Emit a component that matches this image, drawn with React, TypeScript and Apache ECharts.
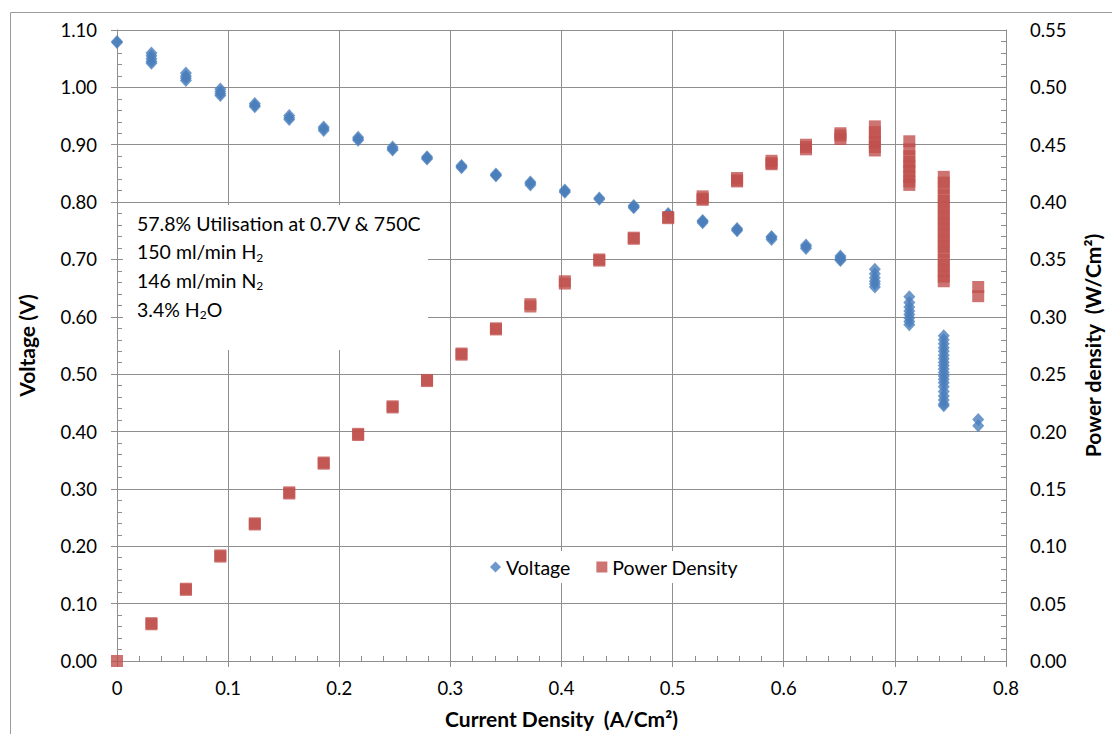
import React, { useEffect, useRef } from "react";
import * as echarts from "echarts";

const currentSteps = [0, 0.031, 0.062, 0.093, 0.124, 0.155, 0.186, 0.217, 0.248, 0.279, 0.31, 0.341, 0.372, 0.403, 0.434, 0.465, 0.496, 0.527, 0.558, 0.589, 0.62, 0.651, 0.682, 0.713, 0.744, 0.775];

const voltageReadings: number[][] = [
  [1.08, 1.078],
  [1.06, 1.055, 1.05, 1.045, 1.042],
  [1.025, 1.02, 1.016, 1.012],
  [0.997, 0.993, 0.989, 0.986],
  [0.972, 0.969, 0.966],
  [0.951, 0.947, 0.944],
  [0.931, 0.928, 0.925],
  [0.913, 0.91, 0.908],
  [0.896, 0.893, 0.891],
  [0.879, 0.877, 0.875],
  [0.864, 0.862, 0.86],
  [0.849, 0.847, 0.846],
  [0.835, 0.833, 0.83],
  [0.821, 0.819, 0.817],
  [0.807, 0.805],
  [0.794, 0.792, 0.79],
  [0.78, 0.778],
  [0.768, 0.766, 0.764],
  [0.754, 0.752, 0.75],
  [0.74, 0.738, 0.735],
  [0.725, 0.722, 0.719],
  [0.706, 0.703, 0.7, 0.698],
  [0.683, 0.675, 0.668, 0.662, 0.657, 0.652],
  [0.635, 0.625, 0.617, 0.61, 0.604, 0.598, 0.592, 0.586],
  [0.567, 0.56, 0.553, 0.546, 0.54, 0.533, 0.527, 0.521, 0.515, 0.509, 0.503, 0.497, 0.491, 0.485, 0.478, 0.47, 0.462, 0.455, 0.448, 0.445],
  [0.421, 0.41],
];

const powerReadings: number[][] = [
  [0.0],
  [0.033, 0.032],
  [0.063, 0.062],
  [0.092, 0.091],
  [0.12, 0.119],
  [0.147, 0.146],
  [0.173, 0.172],
  [0.198, 0.197],
  [0.222, 0.221],
  [0.245, 0.244],
  [0.268, 0.267],
  [0.29, 0.289],
  [0.311, 0.309],
  [0.331, 0.329],
  [0.35, 0.349],
  [0.369, 0.368],
  [0.387, 0.386],
  [0.405, 0.403, 0.402],
  [0.421, 0.419, 0.418],
  [0.436, 0.434, 0.433],
  [0.45, 0.448, 0.446],
  [0.46, 0.458, 0.455],
  [0.466, 0.461, 0.456, 0.452, 0.448, 0.445],
  [0.453, 0.446, 0.44, 0.435, 0.431, 0.427, 0.422, 0.418, 0.415],
  [0.422, 0.417, 0.412, 0.406, 0.401, 0.396, 0.391, 0.386, 0.381, 0.376, 0.371, 0.366, 0.361, 0.356, 0.35, 0.345, 0.34, 0.335, 0.331],
  [0.326, 0.318],
];

const annotationLines = [
  "57.8% Utilisation at 0.7V & 750C",
  "150 ml/min H{sub|2}",
  "146 ml/min N{sub|2}",
  "3.4% H{sub|2}O",
];

const FONT = "Lato, 'Open Sans', sans-serif";
const GRID = "#8e8e8e";

function toPairs(groups: number[][]) {
  const out: number[][] = [];
  groups.forEach((vals, i) => vals.forEach((v) => out.push([currentSteps[i], v])));
  return out;
}

export default function App() {
  const ref = useRef<HTMLDivElement>(null);
  useEffect(() => {
    if (!ref.current) return;
    const chart = echarts.init(ref.current, null, { renderer: "svg" });
    const tickLabel = { color: "#000", fontSize: 18.5, fontFamily: FONT };
    const nameStyle = { color: "#000", fontSize: 21, fontWeight: "bold" as const, fontFamily: FONT };
    chart.setOption({
      animation: false,
      backgroundColor: "#fff",
      grid: { left: 117, right: 106, top: 30, bottom: 72, containLabel: false },
      legend: {
        left: 480,
        top: 551,
        backgroundColor: "#fff",
        padding: [6, 10],
        itemGap: 26,
        itemWidth: 11,
        itemHeight: 11,
        textStyle: { color: "#000", fontSize: 19.5, fontFamily: FONT },
        data: [
          { name: "Voltage", icon: "diamond" },
          { name: "Power Density", icon: "rect" },
        ],
      },
      xAxis: [
        {
          type: "value",
          min: 0,
          max: 0.8,
          interval: 0.1,
          name: "Current Density  (A/Cm²)",
          nameLocation: "middle",
          nameGap: 47,
          nameTextStyle: nameStyle,
          axisLine: { show: true, onZero: false, lineStyle: { color: GRID } },
          axisTick: { show: true, inside: true, length: 5, lineStyle: { color: GRID } },
          minorTick: { show: true, splitNumber: 5, length: 5, lineStyle: { color: GRID } },
          splitLine: { show: true, lineStyle: { color: GRID, width: 1 } },
          axisLabel: { ...tickLabel, margin: 17, formatter: (v: number) => String(+v.toFixed(1)) },
        },
        {
          type: "value",
          min: 0,
          max: 0.8,
          interval: 0.1,
          position: "bottom",
          axisLine: { show: false },
          axisTick: { show: true, inside: false, length: 6, lineStyle: { color: GRID } },
          axisLabel: { show: false },
          splitLine: { show: false },
        },
      ],
      yAxis: [
        {
          type: "value",
          min: 0,
          max: 1.1,
          interval: 0.1,
          position: "left",
          name: "Voltage (V)",
          nameLocation: "middle",
          nameGap: 80,
          nameTextStyle: nameStyle,
          axisLine: { show: true, onZero: false, lineStyle: { color: GRID } },
          axisTick: { show: true, inside: true, length: 5, lineStyle: { color: GRID } },
          minorTick: { show: true, splitNumber: 5, length: 5, lineStyle: { color: GRID } },
          splitLine: { show: true, lineStyle: { color: GRID, width: 1 } },
          axisLabel: { ...tickLabel, margin: 20, formatter: (v: number) => v.toFixed(2) },
        },
        {
          type: "value",
          min: 0,
          max: 0.55,
          interval: 0.05,
          position: "right",
          name: "Power density  (W/Cm²)",
          nameLocation: "middle",
          nameGap: 76,
          nameRotate: 90,
          nameTextStyle: nameStyle,
          axisLine: { show: true, onZero: false, lineStyle: { color: GRID } },
          axisTick: { show: true, inside: true, length: 5, lineStyle: { color: GRID } },
          minorTick: { show: true, splitNumber: 5, length: 5, lineStyle: { color: GRID } },
          splitLine: { show: false },
          axisLabel: { ...tickLabel, margin: 24, formatter: (v: number) => v.toFixed(2) },
        },
        {
          type: "value",
          min: 0,
          max: 1.1,
          interval: 0.1,
          position: "left",
          axisLine: { show: false },
          axisTick: { show: true, inside: false, length: 6, lineStyle: { color: GRID } },
          axisLabel: { show: false },
          splitLine: { show: false },
        },
        {
          type: "value",
          min: 0,
          max: 0.55,
          interval: 0.05,
          position: "right",
          axisLine: { show: false },
          axisTick: { show: true, inside: false, length: 6, lineStyle: { color: GRID } },
          axisLabel: { show: false },
          splitLine: { show: false },
        },
      ],
      graphic: [
        {
          type: "rect",
          left: 8,
          top: 10,
          shape: { width: 1120, height: 740 },
          style: { fill: "none", stroke: "#9a9a9a", lineWidth: 1 },
          silent: true,
          z: 100,
        },
        {
          type: "rect",
          left: 123,
          top: 205,
          shape: { width: 305, height: 145 },
          style: { fill: "#fff" },
          silent: true,
          z: 1,
        },
        ...annotationLines.map((t, i) => ({
          type: "text",
          left: 137,
          top: 213 + i * 28.7,
          z: 2,
          silent: true,
          style: {
            text: t,
            fill: "#000",
            fontSize: 19.5,
            fontFamily: FONT,
            rich: {
              sub: { fontSize: 12, fontFamily: FONT, fill: "#000", padding: [11, 0, 0, 0] },
            },
          },
        })),
      ],
      series: [
        {
          name: "Voltage",
          type: "scatter",
          xAxisIndex: 0,
          yAxisIndex: 0,
          symbol: "diamond",
          symbolSize: [12, 13],
          itemStyle: { color: "#4A7EBB" },
          data: toPairs(voltageReadings),
          z: 5,
        },
        {
          name: "Power Density",
          type: "scatter",
          xAxisIndex: 0,
          yAxisIndex: 1,
          symbol: "rect",
          symbolSize: [12, 12],
          itemStyle: { color: "#C0504D" },
          data: toPairs(powerReadings),
          z: 5,
        },
      ],
    });
    return () => chart.dispose();
  }, []);
  return <div ref={ref} style={{ position: "fixed", left: 0, top: 0, width: 1112, height: 734 }} />;
}
